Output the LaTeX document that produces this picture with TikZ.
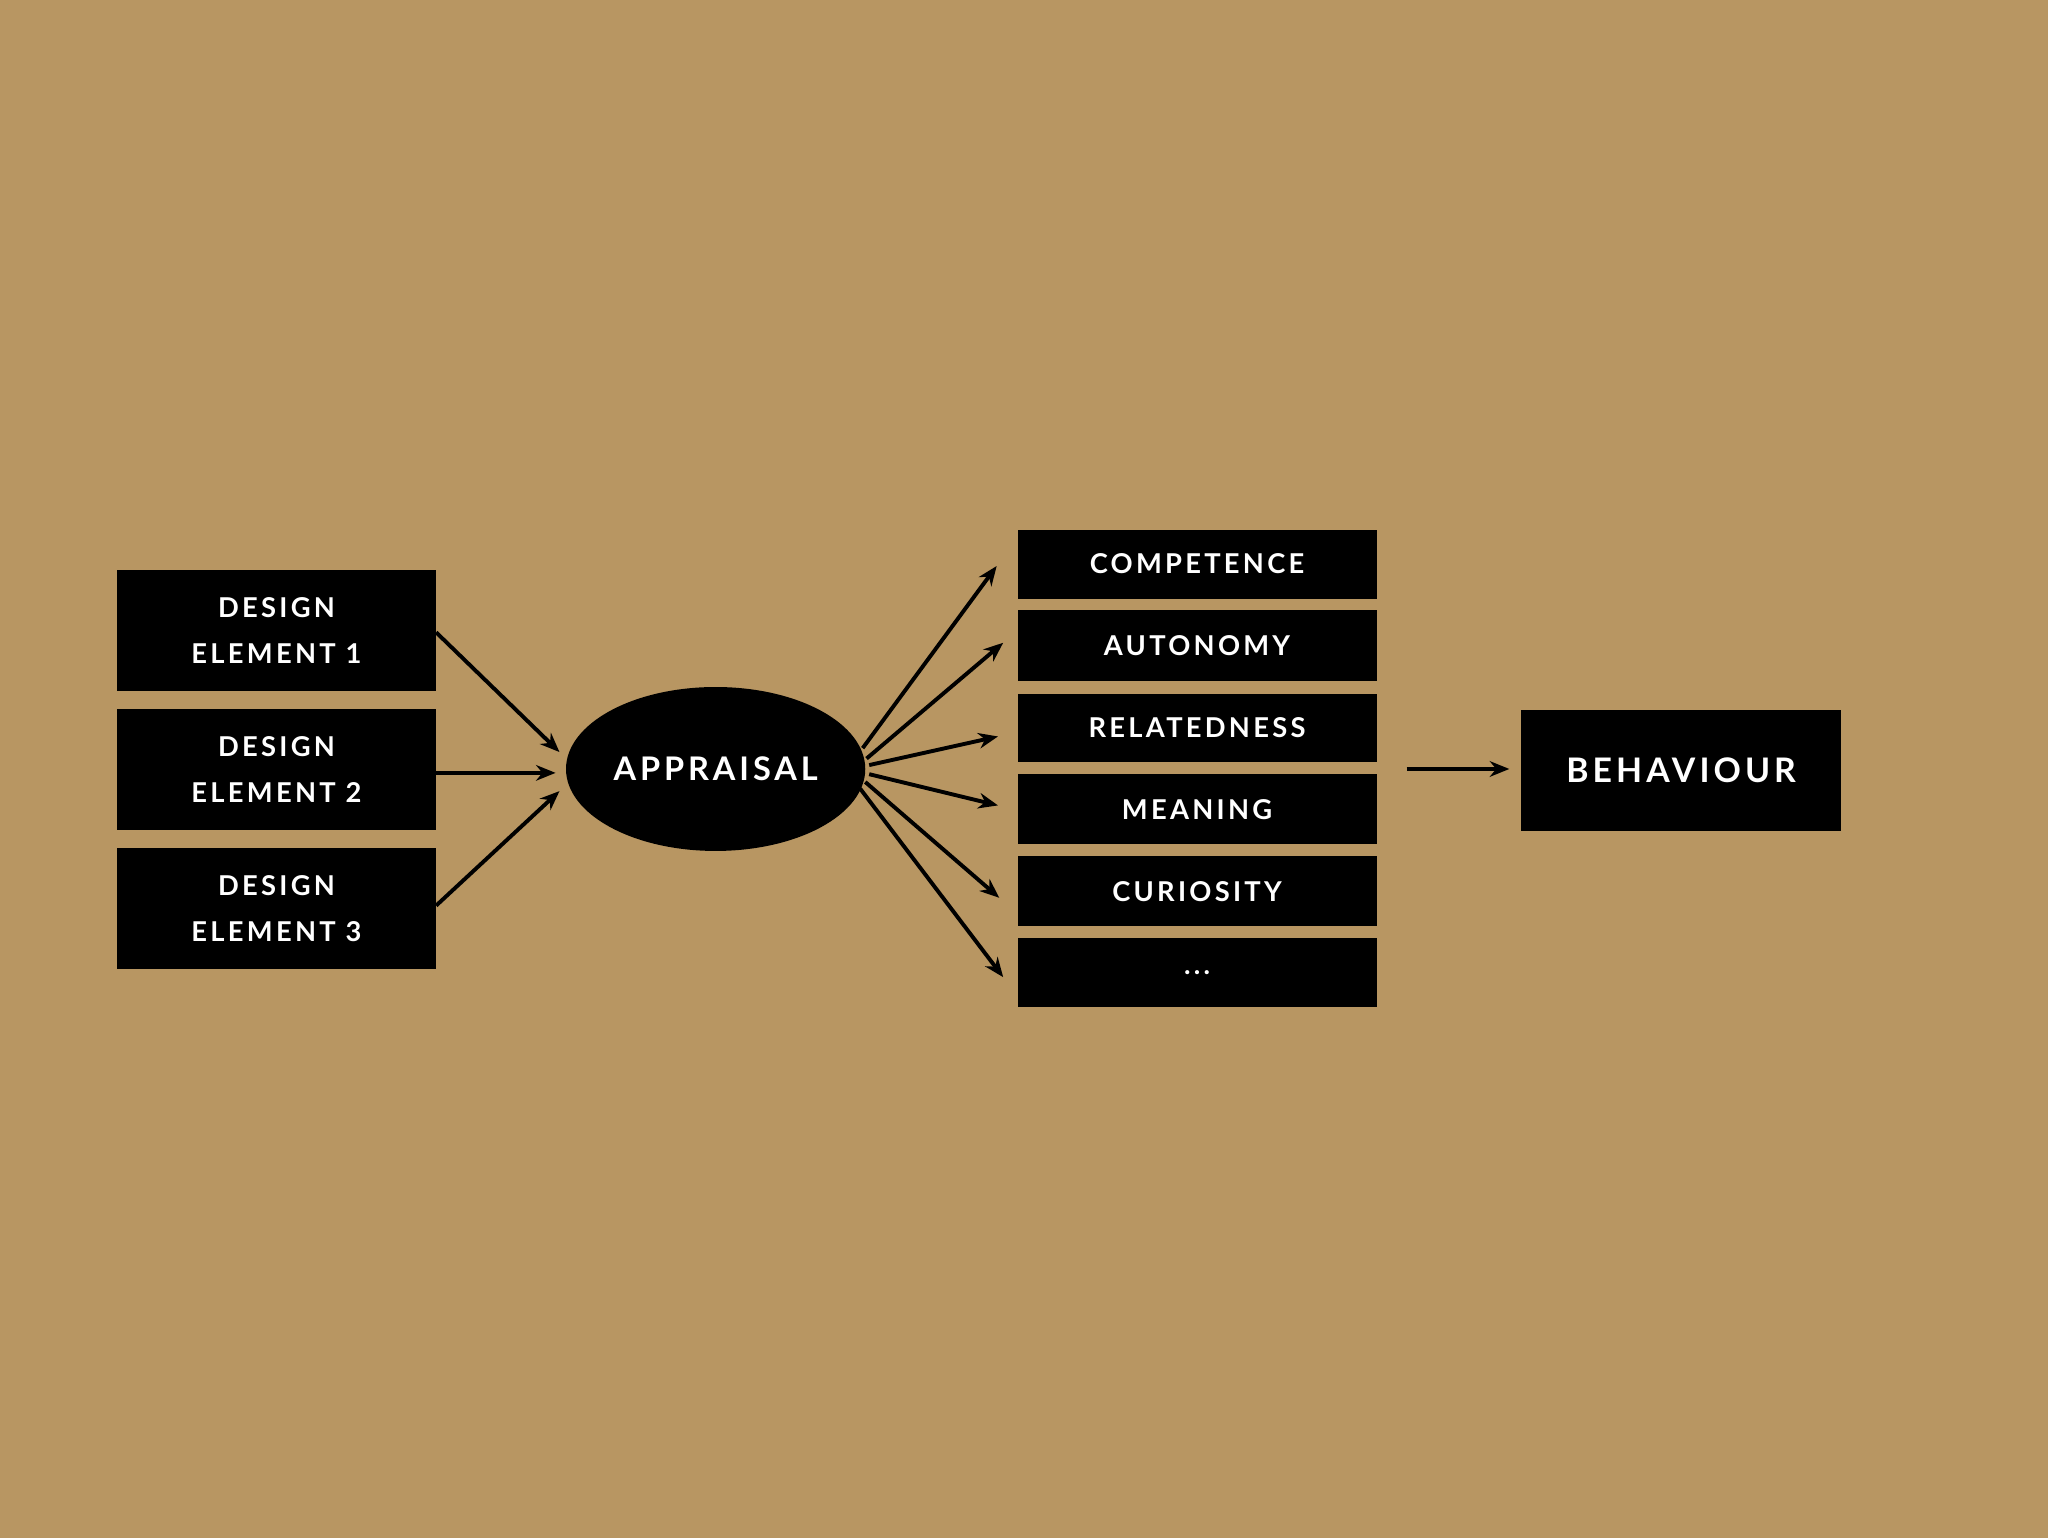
\documentclass[tikz,border=0pt]{standalone}
\usepackage{fontspec}
\setmainfont{Lato}[LetterSpace=12]
\usetikzlibrary{arrows.meta,shapes.geometric}
\definecolor{kraft}{RGB}{184,150,98}
\begin{document}
\begin{tikzpicture}[x=1pt,y=-1pt,
  box/.style={fill=black,text=white,font=\bfseries\fontsize{21}{35}\selectfont,align=center,inner sep=0pt},
  arr/.style={-{Stealth[length=15pt,width=12pt]},line width=3pt}]
\fill[kraft] (-3,-3) rectangle (1571,1179);
\useasboundingbox (0,0) rectangle (1568,1176);
\newcommand\bx[6]{\node[box,minimum width=#3-#2,minimum height=#5-#4] (#1) at ({(#2+#3)/2},{(#4+#5)/2}) {#6};}
\bx{d1}{87}{332}{435}{528}{DESIGN\\ELEMENT 1}
\bx{d2}{87}{332}{542}{635}{DESIGN\\ELEMENT 2}
\bx{d3}{87}{332}{649}{742}{DESIGN\\ELEMENT 3}
\node[ellipse,fill=black,text=white,font=\bfseries\fontsize{25}{30}\selectfont,minimum width=230,minimum height=126,inner sep=0pt] (ap) at (547,588) {APPRAISAL};
\bx{c1}{779}{1055}{404}{457}{COMPETENCE}
\bx{c2}{779}{1055}{466}{520}{AUTONOMY}
\bx{c3}{779}{1055}{530}{583}{RELATEDNESS}
\bx{c4}{779}{1055}{592}{646}{MEANING}
\bx{c5}{779}{1055}{655}{709}{CURIOSITY}
\bx{c6}{779}{1055}{718}{771}{...}
\node[box,minimum width=246,minimum height=93,font=\bfseries\fontsize{26}{30}\selectfont] (bh) at (1289,589) {BEHAVIOUR};
\coordinate (a1) at (427,575); \coordinate (a2) at (424,591); \coordinate (a3) at (427,605);
\draw[arr] (d1.east |- 0,483) -- (a1);
\draw[arr] (d2.east |- 0,591) -- (a2);
\draw[arr] (d3.east |- 0,693) -- (a3);
\coordinate (s1) at (660,572); \coordinate (s2) at (663,580); \coordinate (s3) at (665,585);
\coordinate (s4) at (665,592); \coordinate (s5) at (662,598); \coordinate (s6) at (658,603);
\coordinate (t1) at (763,432); \coordinate (t2) at (768,491); \coordinate (t3) at (764,563);
\coordinate (t4) at (764,616); \coordinate (t5) at (765,687); \coordinate (t6) at (768,748);
\foreach \i in {1,...,6} \draw[arr] (s\i) -- (t\i);
\coordinate (b0) at (1078,588); \coordinate (b1) at (1157,588);
\draw[arr] (b0) -- (b1);
\end{tikzpicture}
\end{document}
